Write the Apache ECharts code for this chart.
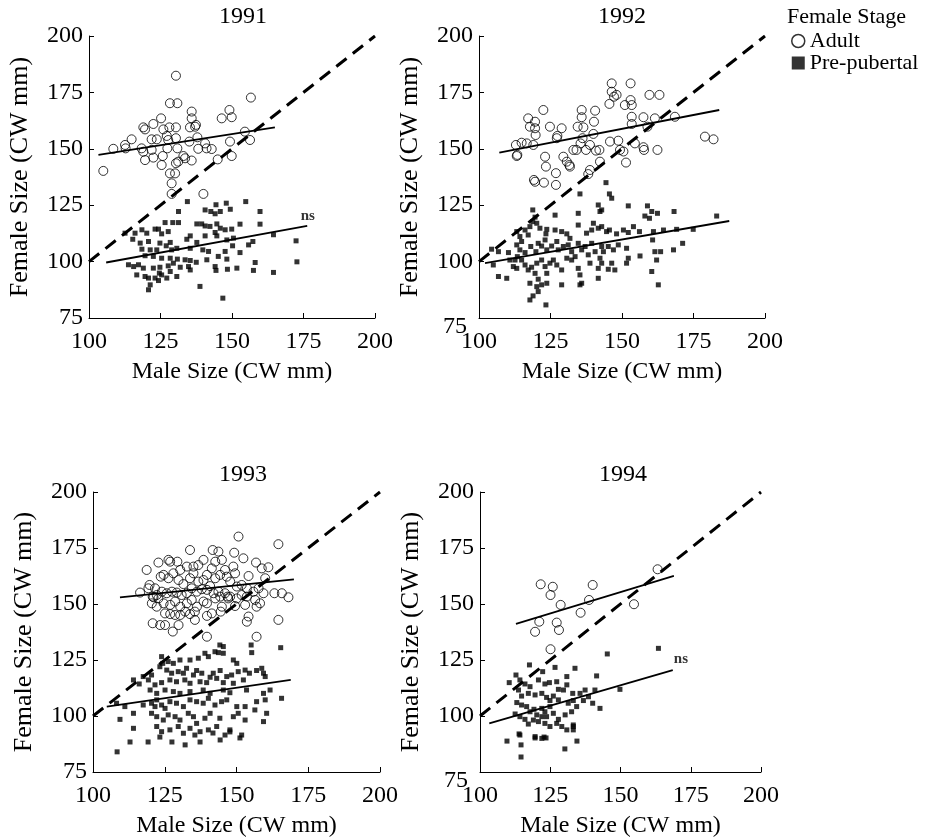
<!DOCTYPE html>
<html>
<head>
<meta charset="utf-8">
<script src="https://cdn.jsdelivr.net/npm/echarts@6/dist/echarts.min.js"></script>
<style>
  html, body { margin: 0; padding: 0; background: #fff; }
  #chart { width: 949px; height: 840px; }
</style>
</head>
<body>
<div id="chart"></div>
<script>
// Male vs female carapace width (CW, mm) of mated pairs, by year and female stage
const years = ['1991', '1992', '1993', '1994'];
const xTicks = [100, 125, 150, 175, 200];
const yTicks = [75, 100, 125, 150, 175, 200];

const adult1991 = [[105.0,140.2],[108.5,150.0],[112.6,151.7],[112.8,150.2],[114.9,154.2],[118.4,150.2],[119.0,148.7],[119.0,159.5],[119.6,158.6],[122.5,161.0],[121.9,154.2],[121.9,149.5],[122.5,146.1],[119.6,145.0],[123.7,154.2],[125.2,163.5],[125.4,142.8],[125.8,146.8],[126.0,158.6],[127.2,155.7],[127.4,150.2],[127.7,153.9],[128.1,159.5],[128.3,139.1],[128.3,170.2],[128.9,134.7],[128.9,130.0],[130.4,159.5],[130.4,154.7],[130.4,143.6],[130.9,170.2],[130.4,182.4],[131.2,144.3],[130.9,150.2],[130.1,139.1],[133.0,146.8],[133.6,145.8],[135.1,153.2],[135.3,159.5],[135.9,166.5],[135.9,163.5],[135.9,144.8],[137.1,159.8],[137.4,160.6],[137.9,155.1],[138.2,150.0],[140.0,130.0],[140.6,152.4],[141.1,150.2],[142.9,149.9],[145.0,145.3],[146.4,163.5],[149.1,167.2],[149.3,153.2],[149.9,164.0],[149.9,146.8],[154.5,157.6],[156.3,153.9],[156.6,172.7]];
const pre1991 = [[134.4,126.6],[144.4,125.2],[148.0,125.9],[154.8,126.6],[131.3,122.2],[140.6,122.9],[142.6,122.2],[144.1,121.2],[145.9,122.2],[149.4,123.2],[159.8,122.2],[126.6,117.3],[129.3,117.3],[124.3,114.4],[123.1,114.4],[118.5,114.1],[116.1,112.6],[112.6,112.6],[120.2,112.6],[125.4,112.3],[127.7,113.3],[131.3,117.3],[137.7,116.7],[139.4,116.7],[140.6,115.8],[142.3,115.6],[144.7,116.7],[145.9,114.8],[147.6,114.1],[149.9,114.4],[152.8,116.6],[159.8,116.6],[144.1,112.9],[144.7,111.4],[140.6,111.4],[135.4,111.4],[134.2,109.9],[137.7,108.5],[148.2,109.6],[150.5,110.4],[157.3,108.9],[164.5,111.9],[172.4,109.2],[115.3,109.9],[117.9,108.2],[120.8,108.9],[124.8,108.2],[128.4,108.5],[130.7,105.9],[128.9,105.2],[127.0,107.0],[123.7,105.2],[121.4,105.2],[118.5,105.5],[135.4,105.9],[139.8,105.2],[141.8,104.5],[147.6,104.5],[150.2,107.0],[152.8,104.0],[155.8,107.4],[119.6,102.6],[122.5,102.3],[125.4,101.5],[128.4,101.5],[130.9,101.1],[133.6,100.8],[135.4,100.5],[137.5,99.7],[141.2,100.8],[145.2,102.3],[148.2,101.1],[113.8,98.6],[115.6,97.8],[117.3,98.6],[119.0,97.1],[122.5,97.1],[124.8,97.5],[127.7,98.1],[129.5,99.3],[131.9,97.5],[134.8,97.8],[135.4,96.3],[144.1,97.8],[144.4,96.1],[148.4,96.6],[151.7,97.1],[157.5,96.1],[158.1,99.6],[164.5,95.2],[172.7,99.9],[116.7,94.1],[119.6,93.4],[120.8,92.7],[123.1,92.7],[125.4,94.1],[127.2,92.7],[130.7,93.4],[128.4,95.6],[124.6,94.9],[121.4,89.7],[124.3,91.6],[120.8,87.5],[138.8,89.0],[146.8,83.8]];

const adult1992 = [[112.9,151.7],[113.2,146.8],[113.4,147.3],[114.9,152.7],[116.7,152.4],[117.2,163.5],[117.8,159.8],[119.6,162.0],[119.6,159.1],[119.8,156.1],[119.0,151.7],[119.6,135.4],[119.2,136.2],[122.7,135.0],[122.5,167.2],[123.1,146.5],[123.4,142.1],[124.8,159.8],[126.9,139.2],[126.9,134.0],[127.2,154.7],[127.4,155.7],[128.9,159.1],[129.5,146.5],[130.7,144.3],[131.6,142.8],[131.8,142.1],[133.0,149.5],[134.1,149.5],[134.5,159.8],[135.5,152.4],[135.9,167.2],[135.9,164.0],[136.2,154.7],[136.5,159.5],[137.4,149.5],[138.2,138.8],[138.8,151.7],[138.8,140.6],[140.0,156.6],[140.2,162.0],[140.6,166.9],[140.9,149.2],[142.1,149.5],[142.3,144.3],[145.6,169.9],[145.8,153.2],[146.4,179.0],[146.4,175.3],[147.2,173.1],[148.1,173.9],[148.7,153.6],[149.3,149.5],[150.5,148.8],[151.0,169.4],[151.4,143.9],[153.0,179.0],[153.0,171.6],[153.4,169.4],[153.4,164.2],[153.4,161.0],[154.5,152.4],[157.5,164.0],[157.5,150.7],[157.7,149.5],[158.9,159.8],[159.6,173.9],[161.5,163.5],[162.4,149.5],[163.1,173.9],[168.5,164.2],[179.0,155.4],[182.0,154.2]];
const pre1992 = [[144.4,135.0],[145.6,130.0],[146.4,128.1],[135.3,130.0],[141.7,125.1],[142.3,122.2],[142.9,122.9],[152.2,124.7],[158.9,124.7],[160.4,122.2],[162.4,121.4],[168.2,122.2],[183.1,120.2],[118.8,122.9],[118.8,117.7],[119.6,119.7],[120.2,117.0],[117.8,115.5],[116.1,114.0],[113.2,113.3],[114.3,111.1],[114.9,108.9],[113.2,107.4],[117.2,111.8],[121.3,114.8],[123.7,114.3],[123.4,112.3],[126.6,120.6],[126.6,114.0],[128.9,113.3],[130.7,112.3],[131.8,110.3],[134.7,121.4],[134.7,116.2],[137.6,112.6],[139.4,114.0],[140.0,117.0],[141.7,114.8],[142.9,115.5],[144.6,113.3],[145.6,114.0],[148.1,112.3],[150.5,114.0],[152.2,112.9],[154.0,115.5],[156.1,113.3],[158.0,120.2],[159.6,119.2],[161.0,113.3],[164.5,114.0],[169.1,114.3],[174.9,114.3],[104.4,105.5],[106.8,104.4],[110.3,104.0],[110.8,100.7],[112.6,100.7],[113.4,102.2],[114.3,105.2],[116.1,104.0],[118.1,106.7],[119.9,104.4],[120.7,108.1],[121.9,106.9],[123.1,109.6],[123.7,105.2],[125.4,106.9],[127.2,108.9],[127.7,105.2],[129.5,106.7],[131.2,107.4],[132.4,104.4],[133.6,102.2],[134.7,108.1],[135.9,105.2],[137.1,106.7],[138.2,103.0],[139.4,108.1],[140.6,104.4],[142.9,106.7],[143.5,104.4],[145.2,106.7],[147.0,105.2],[148.7,107.4],[151.6,105.9],[152.2,101.5],[156.3,102.5],[160.7,109.6],[161.5,104.4],[163.5,104.4],[168.0,105.2],[171.2,108.1],[105.0,98.5],[106.8,93.4],[109.7,92.6],[112.0,97.8],[113.2,97.0],[114.9,100.7],[116.1,98.5],[117.2,96.3],[118.4,97.5],[120.2,99.3],[121.9,100.7],[123.1,97.8],[123.7,94.8],[124.8,99.3],[127.2,98.5],[128.9,96.3],[130.7,101.5],[132.4,100.7],[134.7,97.0],[135.3,94.1],[135.9,90.4],[138.8,99.3],[141.7,97.0],[142.3,101.5],[142.9,99.3],[145.2,96.6],[146.4,99.3],[147.5,96.3],[151.6,99.3],[162.1,100.7],[160.4,95.6],[162.7,89.7],[119.6,94.8],[120.7,92.2],[117.8,90.4],[120.2,88.9],[121.9,89.7],[123.7,90.4],[128.9,89.7],[135.3,89.7],[141.7,92.6],[120.7,86.7],[117.8,83.0],[123.4,80.8],[126.0,100.7],[118.9,84.8]];

const adult1993 = [[150.7,180.1],[133.8,174.1],[164.6,176.7],[141.7,174.1],[143.7,173.4],[149.2,172.9],[152.4,170.4],[156.8,168.5],[118.7,165.2],[122.8,168.5],[126.3,169.7],[126.9,168.9],[129.4,168.9],[130.4,165.2],[132.7,166.7],[135.0,166.7],[136.7,167.4],[138.5,169.7],[141.4,165.9],[142.6,168.9],[144.9,169.7],[146.0,165.2],[148.9,166.7],[149.5,163.7],[154.2,162.5],[158.8,165.9],[161.1,166.4],[119.7,158.5],[119.3,157.0],[116.4,155.1],[121.6,157.0],[123.6,162.2],[124.6,163.0],[126.3,161.5],[128.0,163.7],[129.8,160.7],[131.5,158.9],[133.8,161.5],[135.0,163.7],[136.7,160.0],[138.5,160.7],[139.7,163.0],[140.8,158.0],[142.6,161.5],[144.3,163.0],[146.6,162.2],[147.8,160.0],[150.1,157.8],[151.8,158.5],[153.6,157.0],[155.9,155.5],[157.7,157.0],[159.4,154.8],[160.0,161.5],[163.2,154.8],[165.8,154.8],[168.1,153.0],[158.2,150.3],[156.5,151.8],[153.6,153.3],[151.8,154.0],[150.1,152.5],[147.8,153.3],[146.0,154.8],[143.7,155.5],[142.0,154.8],[139.7,156.3],[137.9,156.6],[136.2,155.5],[134.4,157.0],[132.7,154.8],[130.9,154.0],[129.2,155.1],[127.5,155.5],[125.7,154.8],[124.0,155.5],[122.2,154.0],[120.8,153.3],[120.5,150.3],[122.2,148.8],[124.6,150.3],[126.9,149.6],[128.6,151.1],[130.4,148.8],[132.7,150.3],[134.4,151.8],[136.2,148.8],[138.5,151.1],[139.7,150.3],[142.6,152.5],[144.9,148.8],[146.9,153.3],[149.5,149.1],[153.0,149.6],[121.1,153.0],[122.8,152.5],[125.1,145.8],[126.9,145.5],[128.6,145.1],[130.4,145.1],[132.1,146.6],[133.8,145.5],[135.5,146.6],[139.7,144.7],[141.4,145.8],[144.5,146.6],[154.2,144.4],[153.6,142.1],[164.6,142.9],[120.8,141.4],[123.4,140.6],[125.1,140.6],[127.8,137.7],[129.8,140.6],[135.5,142.9],[139.7,135.4],[157.0,135.4],[157.0,148.8],[144.3,153.3],[147.1,152.5]];
const pre1993 = [[144.2,131.7],[145.4,131.0],[142.5,128.7],[143.7,128.3],[145.4,128.0],[139.0,128.0],[140.2,126.5],[136.7,125.8],[133.8,125.0],[130.3,125.0],[128.0,123.5],[126.2,124.3],[123.9,126.5],[124.3,123.5],[155.1,131.7],[155.3,128.3],[165.4,130.5],[148.9,125.0],[150.1,123.5],[153.0,120.5],[154.5,119.1],[157.0,120.3],[158.8,121.3],[160.0,117.6],[159.4,119.1],[150.6,119.8],[148.3,118.3],[146.6,117.6],[144.3,120.3],[141.9,119.1],[140.8,117.3],[137.9,119.1],[136.1,120.3],[135.0,118.3],[132.6,121.3],[131.5,119.1],[129.7,119.8],[127.4,119.1],[125.7,120.5],[123.3,122.0],[120.4,118.3],[119.3,116.1],[117.5,117.6],[114.1,116.1],[116.1,114.3],[121.6,113.9],[123.9,114.9],[126.8,116.1],[129.1,115.3],[132.0,116.1],[133.8,114.6],[137.3,115.3],[139.6,114.9],[143.1,116.8],[145.4,114.9],[148.9,114.6],[152.4,116.1],[119.9,111.6],[122.2,110.1],[125.1,111.6],[128.0,110.9],[130.3,110.1],[133.8,110.9],[138.4,111.6],[140.8,110.1],[145.4,111.6],[147.7,110.4],[153.5,111.6],[159.4,110.1],[161.7,111.6],[108.2,105.7],[111.1,104.2],[114.1,101.2],[117.5,104.9],[120.4,105.7],[121.6,104.2],[122.2,107.2],[123.9,104.9],[125.1,103.4],[126.8,106.4],[129.1,105.7],[131.5,104.2],[133.8,107.2],[136.1,106.4],[138.4,105.7],[140.2,107.9],[142.5,104.9],[144.8,106.4],[146.6,107.2],[150.1,104.2],[153.0,104.2],[157.0,106.4],[160.0,107.2],[165.7,107.9],[109.4,98.5],[114.1,94.5],[120.4,101.2],[122.2,99.7],[124.5,98.2],[126.2,100.5],[128.6,99.7],[130.3,98.2],[133.2,101.2],[135.0,99.7],[136.1,96.7],[139.0,99.0],[140.8,101.2],[144.2,99.0],[148.9,99.7],[150.6,101.2],[153.0,98.2],[156.4,102.7],[159.4,97.5],[160.5,101.2],[122.2,95.3],[123.9,93.0],[126.8,93.8],[129.7,95.3],[131.5,92.3],[133.8,94.5],[137.3,93.0],[140.2,93.8],[143.1,95.3],[146.0,91.5],[147.7,93.8],[151.8,91.5],[108.4,84.0],[119.2,88.4],[123.3,90.6],[132.1,87.1],[137.3,88.4],[144.3,89.3],[112.9,88.4],[127.5,88.4],[135.5,91.5],[141.8,92.4],[147.7,92.9],[151.2,90.2]];

const adult1994 = [[121.6,158.8],[125.9,157.7],[125.1,154.0],[121.1,142.1],[119.6,137.6],[127.3,141.7],[128.1,138.4],[128.7,149.6],[125.1,129.8],[135.8,146.1],[138.8,151.8],[140.1,158.5],[154.8,149.9],[163.2,165.5]];
const pre1994 = [[145.3,127.7],[163.5,130.2],[117.6,122.8],[112.8,118.3],[122.3,119.8],[126.7,121.7],[133.8,121.3],[141.5,117.9],[110.4,114.9],[114.2,116.1],[116.0,114.3],[117.8,113.1],[120.8,116.1],[123.1,114.3],[124.7,114.9],[127.3,115.3],[127.9,111.9],[129.7,111.6],[130.9,117.6],[130.9,113.9],[133.0,110.1],[135.6,110.1],[137.4,111.6],[138.6,108.6],[140.9,111.6],[142.7,103.4],[149.8,111.9],[113.7,111.6],[114.8,108.9],[117.2,110.1],[119.6,109.4],[122.0,110.1],[123.7,108.3],[124.9,106.9],[126.1,108.9],[127.9,107.2],[131.4,105.7],[133.2,106.9],[136.8,106.9],[140.1,105.7],[113.1,106.0],[114.8,104.9],[116.6,104.2],[117.8,101.9],[119.2,103.0],[120.2,100.5],[122.0,103.4],[123.1,101.9],[123.7,99.7],[124.9,104.2],[126.1,101.2],[127.9,98.5],[130.3,100.5],[132.6,101.9],[133.2,96.0],[134.4,104.2],[112.5,100.9],[114.2,99.7],[116.0,98.5],[117.2,96.4],[119.0,98.2],[120.8,97.5],[122.0,99.7],[123.1,96.7],[124.9,95.3],[127.3,96.7],[129.1,95.3],[130.9,93.8],[133.2,95.3],[133.2,93.8],[114.2,91.5],[119.6,90.8],[122.0,90.0],[109.6,88.8],[113.9,92.0],[114.6,87.1],[114.6,81.7],[119.6,90.2],[122.8,90.6],[123.5,90.2],[130.2,85.3],[134.5,88.8]];

// Least-squares fit end points for each stage, and the 1:1 reference line
const fitAdult = [
  [[103.3,147.3],[165.0,159.5]],
  [[107.1,148.3],[184.0,167.2]],
  [[109.4,153.0],[170.0,161.0]],
  [[112.8,141.1],[169.0,162.6]]
];
const fitPre = [
  [[106.0,99.6],[176.3,115.8]],
  [[102.1,99.3],[187.5,118.0]],
  [[104.8,104.2],[168.9,116.1]],
  [[103.3,96.7],[168.6,120.5]]
];
const identity = [[100,100],[200,200]];
// "ns" = regression not significant
const nsNotes = [[[176.5,120]], [], [], [[171.5,125.5]]];

const adultData = [adult1991, adult1992, adult1993, adult1994];
const preData = [pre1991, pre1992, pre1993, pre1994];

const FONT = '"Liberation Serif", "DejaVu Serif", serif';
const gridBoxes = [
  { left: 89, top: 36, width: 286, height: 282 },
  { left: 479, top: 36, width: 286, height: 282 },
  { left: 93, top: 492, width: 287, height: 280 },
  { left: 480, top: 492, width: 281, height: 280 }
];
const titlePos = [[243, 17], [622, 17], [243, 475], [623, 475]];
// the right-hand panels set their lowest y label down and to the left
const lowFirstLabel = [false, true, false, true];

const chart = echarts.init(document.getElementById('chart'), null, { renderer: 'canvas' });

const xAxes = [], yAxes = [], series = [], graphics = [];
gridBoxes.forEach((g, i) => {
  xAxes.push({
    gridIndex: i, type: 'value', min: xTicks[0], max: xTicks[xTicks.length - 1], interval: 25,
    axisLine: { show: true, lineStyle: { color: '#000', width: 1 } },
    axisTick: { show: true, inside: true, length: 5, lineStyle: { color: '#000' } },
    axisLabel: { color: '#000', fontFamily: FONT, fontSize: 24, margin: 12 },
    splitLine: { show: false },
    name: 'Male Size (CW mm)', nameLocation: 'middle', nameGap: 42,
    nameTextStyle: { color: '#000', fontFamily: FONT, fontSize: 24 }
  });
  const yLabel = { color: '#000', fontFamily: FONT, fontSize: 24, margin: 6 };
  if (lowFirstLabel[i]) {
    yLabel.formatter = v => (Math.abs(v - yTicks[0]) < 1e-6 ? '{low|' + v + '}' : String(v));
    yLabel.rich = { low: { fontFamily: FONT, fontSize: 24, color: '#000', padding: [18, 6, 0, 0] } };
  }
  yAxes.push({
    gridIndex: i, type: 'value', min: yTicks[0], max: yTicks[yTicks.length - 1], interval: 25,
    axisLine: { show: true, lineStyle: { color: '#000', width: 1 } },
    axisTick: { show: true, inside: true, length: 5, lineStyle: { color: '#000' } },
    axisLabel: yLabel,
    splitLine: { show: false },
    name: 'Female Size (CW mm)', nameLocation: 'middle', nameGap: 56,
    nameTextStyle: { color: '#000', fontFamily: FONT, fontSize: 26 }
  });

  series.push({
    name: 'Adult', type: 'scatter', xAxisIndex: i, yAxisIndex: i,
    data: adultData[i], symbol: 'circle', symbolSize: 9, silent: true,
    itemStyle: { color: 'rgba(255,255,255,0)', borderColor: '#000', borderWidth: 1 }, z: 2
  });
  series.push({
    name: 'Pre-pubertal', type: 'scatter', xAxisIndex: i, yAxisIndex: i,
    data: preData[i], symbol: 'rect', symbolSize: 5, silent: true,
    itemStyle: { color: '#000' }, z: 2
  });
  series.push({
    type: 'line', xAxisIndex: i, yAxisIndex: i, data: fitAdult[i],
    showSymbol: false, silent: true, lineStyle: { color: '#000', width: 1.8 }, z: 3
  });
  series.push({
    type: 'line', xAxisIndex: i, yAxisIndex: i, data: fitPre[i],
    showSymbol: false, silent: true, lineStyle: { color: '#000', width: 1.8 }, z: 3
  });
  series.push({
    type: 'line', xAxisIndex: i, yAxisIndex: i, data: identity,
    showSymbol: false, silent: true,
    lineStyle: { color: '#000', width: 3, type: [13, 8] }, z: 4
  });
  if (nsNotes[i].length) {
    series.push({
      type: 'scatter', xAxisIndex: i, yAxisIndex: i, data: nsNotes[i],
      symbolSize: 0, silent: true,
      label: { show: true, position: 'inside', formatter: 'ns', color: '#000',
               fontFamily: FONT, fontWeight: 'bold', fontSize: 15 }, z: 5
    });
  }
  graphics.push({
    type: 'text', x: titlePos[i][0], y: titlePos[i][1],
    style: { text: years[i], fill: '#000', font: '24px ' + FONT, textAlign: 'center', textVerticalAlign: 'middle' }
  });
});

graphics.push({
  type: 'text', x: 787, y: 17,
  style: { text: 'Female Stage', fill: '#000', font: '22px ' + FONT, textAlign: 'left', textVerticalAlign: 'middle' }
});

chart.setOption({
  animation: false,
  backgroundColor: '#fff',
  grid: gridBoxes,
  xAxis: xAxes,
  yAxis: yAxes,
  series: series,
  graphic: graphics,
  legend: {
    orient: 'vertical', left: 791, top: 30, itemWidth: 13, itemHeight: 13, itemGap: 0,
    padding: 0, selectedMode: false,
    textStyle: { color: '#000', fontFamily: FONT, fontSize: 22, lineHeight: 22 },
    data: [
      { name: 'Adult', icon: 'circle', itemStyle: { color: '#fff', borderColor: '#000', borderWidth: 1.5 } },
      { name: 'Pre-pubertal', icon: 'rect', itemStyle: { color: '#000' } }
    ]
  }
});
</script>
</body>
</html>
